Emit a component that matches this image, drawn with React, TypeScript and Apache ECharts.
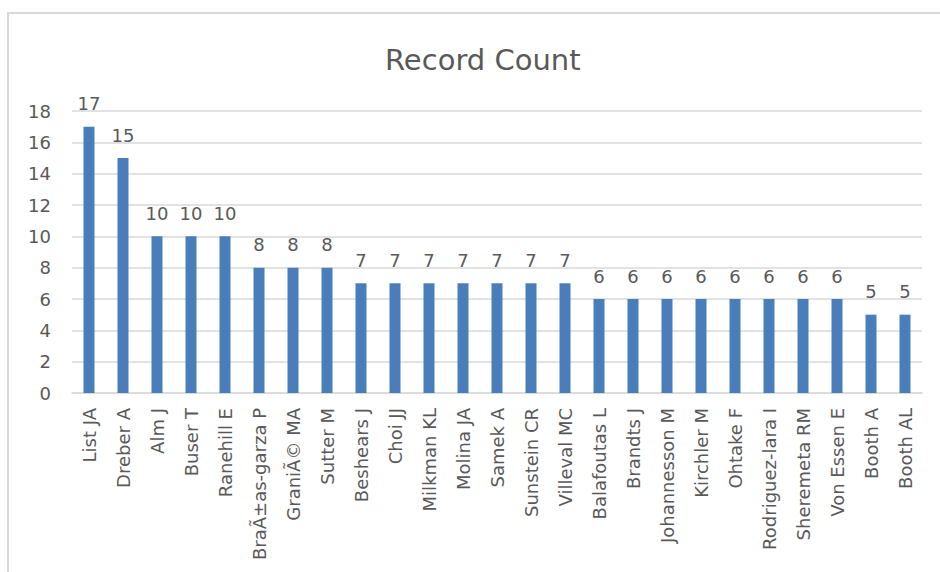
import React, { useEffect, useRef } from "react";
import * as echarts from "echarts";

const categories = [
  "List JA", "Dreber A", "Alm J", "Buser T", "Ranehill E",
  "BraÃ±as-garza P", "GraniÃ© MA", "Sutter M", "Beshears J", "Choi JJ",
  "Milkman KL", "Molina JA", "Samek A", "Sunstein CR", "Villeval MC",
  "Balafoutas L", "Brandts J", "Johannesson M", "Kirchler M", "Ohtake F",
  "Rodriguez-lara I", "Sheremeta RM", "Von Essen E", "Booth A", "Booth AL",
];
const recordCounts = [17, 15, 10, 10, 10, 8, 8, 8, 7, 7, 7, 7, 7, 7, 7, 6, 6, 6, 6, 6, 6, 6, 6, 5, 5];
const chartTitle = "Record Count";

export default function App() {
  const ref = useRef<HTMLDivElement>(null);
  useEffect(() => {
    if (!ref.current) return;
    const chart = echarts.init(ref.current, null, { renderer: "svg" });
    const font = "'DejaVu Sans', 'Open Sans', sans-serif";
    chart.setOption({
      animation: false,
      backgroundColor: "#ffffff",
      graphic: [
        {
          type: "rect",
          shape: { x: 8, y: 13, width: 1000, height: 1000 },
          style: { fill: "none", stroke: "#d9d9d9", lineWidth: 2 },
          silent: true,
        },
      ],
      title: {
        text: chartTitle,
        left: 380,
        top: 40,
        textStyle: { fontFamily: font, fontSize: 29, fontWeight: "normal", color: "#595959" },
      },
      grid: { left: 72, right: 18, top: 111, bottom: 179, containLabel: false },
      xAxis: {
        type: "category",
        data: categories,
        axisLine: { show: true, lineStyle: { color: "#d9d9d9", width: 1.5 } },
        axisTick: { show: false },
        axisLabel: {
          rotate: 90,
          interval: 0,
          margin: 15,
          fontFamily: font,
          fontSize: 18,
          color: "#595959",
        },
      },
      yAxis: {
        type: "value",
        min: 0,
        max: 18,
        interval: 2,
        axisLine: { show: false },
        axisTick: { show: false },
        splitLine: { lineStyle: { color: "#d9d9d9", width: 1.5 } },
        axisLabel: { margin: 21, fontFamily: font, fontSize: 18, color: "#595959" },
      },
      series: [
        {
          type: "bar",
          data: recordCounts,
          barWidth: 11,
          itemStyle: { color: "#4a7ebb" },
          label: {
            show: true,
            position: "top",
            distance: 14,
            fontFamily: font,
            fontSize: 18,
            color: "#595959",
          },
        },
      ],
    });
    return () => chart.dispose();
  }, []);
  return (
    <div
      ref={ref}
      style={{ position: "fixed", left: 0, top: 0, width: 940, height: 572 }}
    />
  );
}
